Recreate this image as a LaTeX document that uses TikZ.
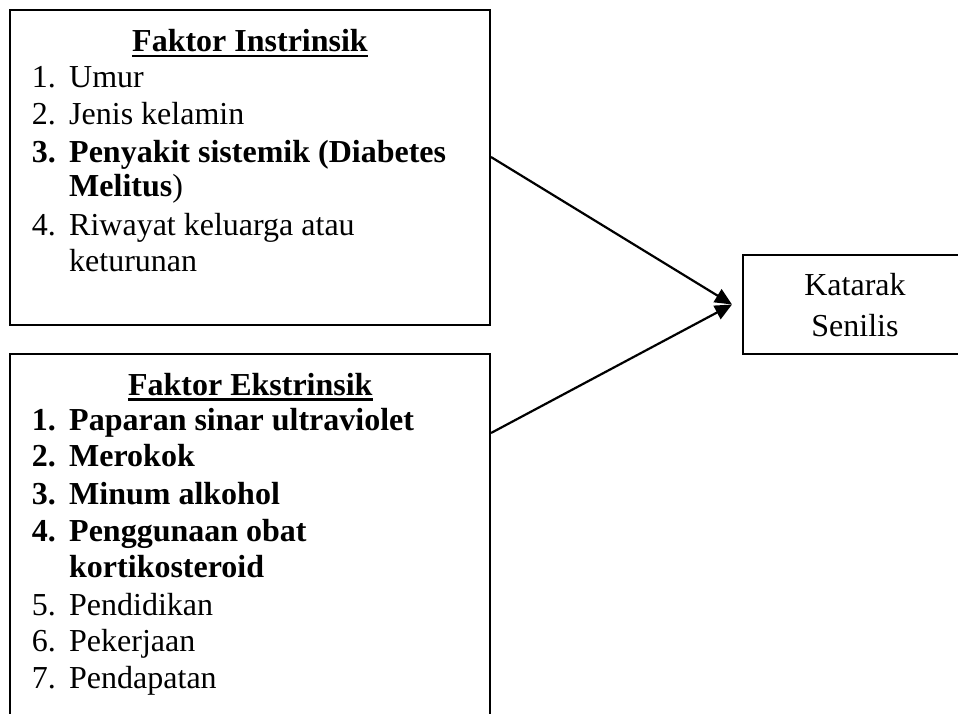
\documentclass[tikz,border=0pt]{standalone}
\usepackage{fontspec}
\setmainfont{Liberation Serif}
\usetikzlibrary{arrows.meta}
\tikzset{
  boxframe/.style={draw, line width=2pt, inner sep=0pt, rectangle},
  txt/.style={inner sep=0pt, anchor=base west, font=\fontsize{32}{37}\selectfont},
  ctxt/.style={inner sep=0pt, anchor=base, font=\fontsize{32}{37}\selectfont},
  headtxt/.style={inner sep=0pt, anchor=base, font=\fontsize{32}{37}\selectfont\bfseries},
  uline/.style={line width=2.8pt},
  arr/.style={line width=2.2pt, -{Triangle[length=17pt,width=15pt]}}
}
\begin{document}
\begin{tikzpicture}[x=1pt,y=1pt]
\useasboundingbox (0,0) rectangle (958,-713);
\clip (0,0) rectangle (958,-713);
\fill[white] (0,0) rectangle (958,-713);

% boxes
\node[boxframe, minimum width=480pt, minimum height=315pt] (intr) at (250,-167.5) {};
\node[boxframe, minimum width=480pt, minimum height=386pt] (ekstr) at (250,-547) {};
\node[boxframe, minimum width=224pt, minimum height=99pt] (kat) at (855,-304.5) {};

% Faktor Instrinsik
\node[headtxt] (h1) at (250,-51.7) {Faktor Instrinsik};
\draw[uline] ([yshift=-4.2pt]h1.base west) -- ([yshift=-4.2pt]h1.base east);
\node[txt] (i1n) at (31.7,-87.3) {1.};
\node[txt] (i1t) at (69,-87.3) {Umur};
\node[txt] (i2n) at (31.7,-124) {2.};
\node[txt] (i2t) at (69,-124) {Jenis kelamin};
\node[txt] (i3n) at (31.7,-162.3) {\bfseries 3.};
\node[txt] (i3t) at (69,-162.3) {\bfseries Penyakit sistemik (Diabetes};
\node[txt] (i3u) at (69,-196.7) {\textbf{Melitus})};
\node[txt] (i4n) at (31.7,-235) {4.};
\node[txt] (i4t) at (69,-235) {Riwayat keluarga atau};
\node[txt] (i4u) at (69,-271.7) {keturunan};

% Faktor Ekstrinsik
\node[headtxt] (h2) at (250.3,-395) {Faktor Ekstrinsik};
\draw[uline] ([yshift=-4.2pt]h2.base west) -- ([yshift=-4.2pt]h2.base east);
\node[txt] (e1n) at (31.7,-430) {\bfseries 1.};
\node[txt] (e1t) at (69,-430) {\bfseries Paparan sinar ultraviolet};
\node[txt] (e2n) at (31.7,-466.7) {\bfseries 2.};
\node[txt] (e2t) at (69,-466.7) {\bfseries Merokok};
\node[txt] (e3n) at (31.7,-504.3) {\bfseries 3.};
\node[txt] (e3t) at (69,-504.3) {\bfseries Minum alkohol};
\node[txt] (e4n) at (31.7,-541) {\bfseries 4.};
\node[txt] (e4t) at (69,-541) {\bfseries Penggunaan obat};
\node[txt] (e4u) at (69,-577.7) {\bfseries kortikosteroid};
\node[txt] (e5n) at (31.7,-615) {5.};
\node[txt] (e5t) at (69,-615) {Pendidikan};
\node[txt] (e6n) at (31.7,-651.7) {6.};
\node[txt] (e6t) at (69,-651.7) {Pekerjaan};
\node[txt] (e7n) at (31.7,-688.3) {7.};
\node[txt] (e7t) at (69,-688.3) {Pendapatan};

% Katarak Senilis
\node[ctxt] (k1) at (855,-295) {Katarak};
\node[ctxt] (k2) at (855,-336) {Senilis};

% arrows
\draw[arr] ([yshift=-148pt]intr.north east) -- ([xshift=-10pt]kat.west);
\draw[arr] ([yshift=-80pt]ekstr.north east) -- ([xshift=-10pt]kat.west);
\end{tikzpicture}
\end{document}
